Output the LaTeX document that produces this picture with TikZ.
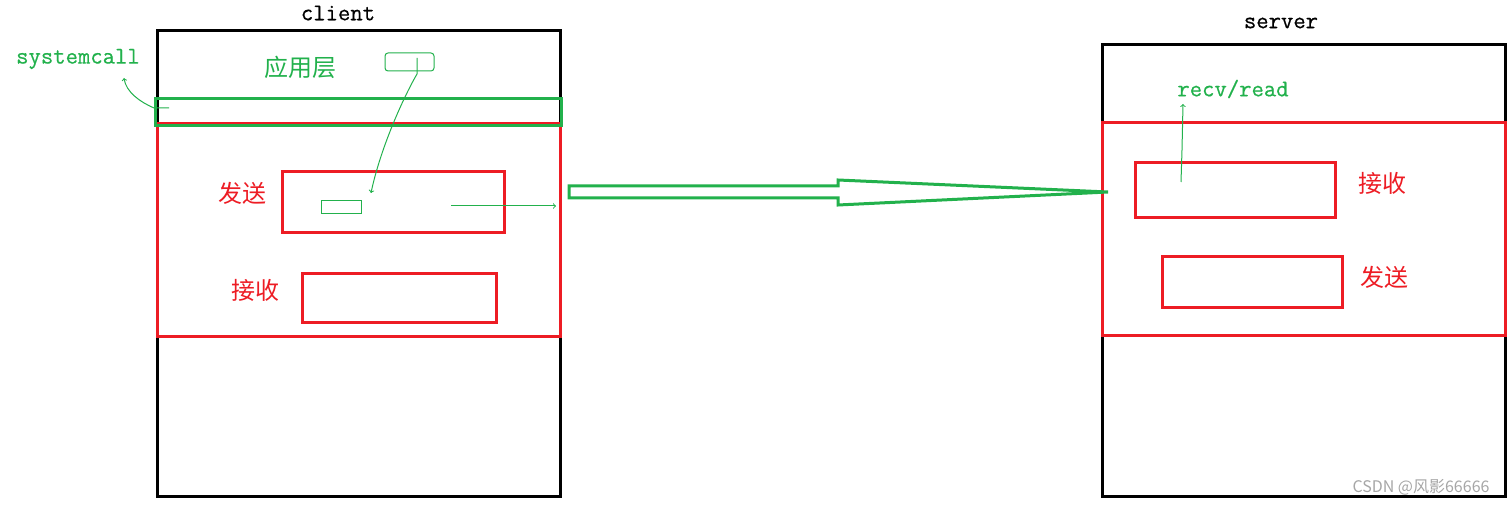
\documentclass[tikz,border=0pt]{standalone}
\usepackage{fontspec}
\newfontfamily\penmono{Latin Modern Mono}[FakeBold=0.6]
\newfontfamily\cjk{Noto Sans CJK SC}
\usepackage{xcolor}
\usetikzlibrary{arrows,positioning,calc}
\definecolor{paintgreen}{RGB}{34,177,76}
\definecolor{paintred}{RGB}{237,28,36}

\begin{document}
\begin{tikzpicture}[x=1pt, y=-1pt, >=to]
        \tikzset{
            hostbox/.style={draw=black, line width=3pt, rectangle, minimum width=403pt, anchor=north west, inner sep=0pt, outer sep=0pt},
            kernbox/.style={draw=paintred, line width=3pt, rectangle, minimum width=403pt, anchor=north west, inner sep=0pt, outer sep=0pt},
            bufbox/.style={draw=paintred, line width=3pt, rectangle, anchor=north west, inner sep=0pt, outer sep=0pt},
            penbox/.style={draw=paintgreen, line width=1pt, rectangle, anchor=north west, inner sep=0pt, outer sep=0pt},
            monolabel/.style={font=\penmono\fontsize{24}{24}\selectfont, inner sep=0pt},
            cjklabel/.style={font=\cjk\fontsize{24}{24}\selectfont, inner sep=0pt},
            pen/.style={draw=paintgreen, line width=1pt},
        }
        \useasboundingbox (0,0) rectangle (1510,505);

        % Client host
        \node [hostbox, minimum height=465pt] (client) at (157,31) {};
        \node [kernbox, minimum height=212pt] (ckern) at (157,124) {};
        \node [draw=paintgreen, line width=3pt, rectangle, minimum width=406pt, minimum height=27pt, anchor=north west, inner sep=0pt] (scbar) at (154,97) {};
        \node [bufbox, minimum width=222pt, minimum height=61pt] (csend) at (282,172) {};
        \node [bufbox, minimum width=194pt, minimum height=49pt] (crecv) at (302,273) {};
        \node [penbox, minimum width=40pt, minimum height=13pt] (csendbuf) at (321,201) {};
        \node [penbox, minimum width=49pt, minimum height=18pt, rounded corners=3pt] (appbuf) at (385,53) {};

        % Server host
        \node [hostbox, minimum height=451pt] (server) at (1102,45) {};
        \node [kernbox, minimum height=212pt] (skern) at (1102,123) {};
        \node [bufbox, minimum width=200pt, minimum height=55pt] (srecv) at (1135,163) {};
        \node [bufbox, minimum width=180pt, minimum height=51pt] (ssend) at (1162,256) {};

        % Labels
        \node [monolabel] (clientlbl) at (338,13) {client};
        \node [monolabel, text=paintgreen] (syscall) at (78,59) {systemcall};
        \node [cjklabel, text=paintgreen] (applayer) at (300,67) {应用层};
        \node [cjklabel, text=paintred] (csendlbl) at (242,193) {发送};
        \node [cjklabel, text=paintred] (crecvlbl) at (255,290) {接收};
        \node [monolabel] (serverlbl) at (1281,23) {server};
        \node [monolabel, text=paintgreen] (recvlbl) at (1233,89) {recv/read};
        \node [cjklabel, text=paintred] (srecvlbl) at (1382,183) {接收};
        \node [cjklabel, text=paintred] (ssendlbl) at (1384,277) {发送};
        \node [font=\cjk\fontsize{16}{16}\selectfont, text=black!35] (mark) at (1421,487) {CSDN @风影66666};

        % Pen strokes
        \coordinate (scfrom) at (169,108);
        \draw [pen, ->] (scfrom) -- ++(-15,0) .. controls +(-14,-6) and +(2,14) .. (124,78);
        \coordinate (appfrom) at (417,58);
        \draw [pen, ->] (appfrom) -- (417,74) .. controls (402,100) and (380,150) .. ([xshift=10pt,yshift=8pt]csendbuf.north east);
        \coordinate (sendfrom) at (451,206);
        \draw [pen, ->, shorten >=4pt] (sendfrom) -- (sendfrom -| ckern.east);
        \coordinate (recvfrom) at (1181,182);
        \draw [pen, ->] (recvfrom) -- (1182,150) -- (1183,104);

        % Transfer over the network
        \draw [paintgreen, line width=3pt, line join=miter]
            (569,186) -- (838,186) -- (838,180) -- ([xshift=6pt]skern.west |- 0,192)
            -- (838,205) -- (838,198) -- (569,198) -- cycle;
\end{tikzpicture}
\end{document}
